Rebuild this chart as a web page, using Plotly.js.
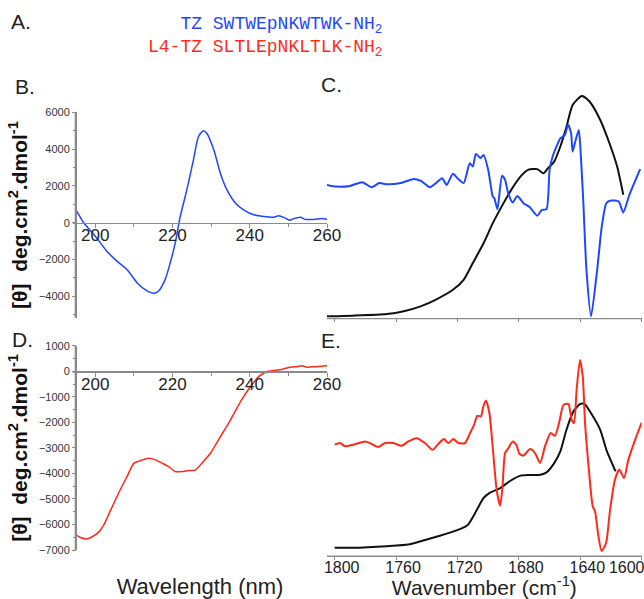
<!DOCTYPE html>
<html><head><meta charset="utf-8">
<script src="https://cdn.plot.ly/plotly-3.0.1.min.js"></script>
<style>html,body{margin:0;padding:0;background:#fff}#chart{width:644px;height:599px}</style>
</head><body><div id="chart"></div>
<script>
// ---- CD spectra (wavelength nm, [theta] deg.cm2.dmol-1) ----
const cdWlTZ = [195,197,200,203,205.6,208.2,210.8,213.4,215.1,216.4,218.1,219.4,220.7,222,223.7,225.4,226.7,227.9,228.9,230.7,232.4,234.1,236.3,238.4,241,243.6,246.2,247.5,248.8,250.3,251.4,253.1,254.4,256.6,258.7,260];
const cdValTZ = [700,0,-740,-1550,-2090,-2540,-3260,-3710,-3840,-3710,-3080,-2180,-1100,340,1780,3400,4670,4990,4850,3950,2680,1780,1060,700,430,340,300,380,290,130,220,300,180,180,230,180];
const cdWlL4 = [195,196,197.7,199,201,202.2,204,206,208.2,210,211.7,213.8,215.5,217.3,219,220.7,222.5,224.2,225.9,227.6,229.8,232.4,235,237.6,240.2,242.3,244.5,246.2,248.4,250.5,252.2,253.5,254.8,257,260];
const cdValL4 = [-6410,-6500,-6570,-6500,-6280,-6020,-5430,-4780,-4130,-3600,-3500,-3410,-3470,-3600,-3735,-3930,-3930,-3890,-3870,-3600,-3210,-2560,-1910,-1190,-600,-210,-10,30,80,160,180,210,160,180,210];

// ---- FTIR, TZ (panel C): absorbance (black) and 2nd derivative (blue), arbitrary units ----
const irWnTZabs = [1805,1788,1766,1755,1744,1734,1723,1716,1710,1703,1697,1690,1685,1679,1674,1668,1664,1661,1657,1653,1649,1645,1639,1634,1627,1621,1616,1612];
const irAbsTZ = [0.7,1,1.7,2.9,5,7.9,12.1,16.4,23.6,32.1,40.7,49.3,55,60.7,63.6,63.9,62.1,64.3,67.1,73.6,82.1,91.4,95.3,92.9,85,75,65,52.9];
const irWnTZd2 = [1805,1799,1790,1782,1776,1771,1766,1757,1749,1744,1738,1734,1730,1727,1723,1720,1716,1712,1710,1708,1705,1703,1700,1697,1696,1694,1691,1689,1687,1684,1681,1677,1673,1668,1665,1662,1660,1658,1653,1650,1648,1646,1645,1643,1641,1640,1638,1636,1633,1629,1626,1623,1620,1615,1612,1608,1601];
const irD2TZ = [57.1,56.4,56.7,58.3,56.1,57.9,57.4,57.9,59.6,58.9,56.1,57.9,60,57.1,61.9,60,57.9,66.4,65,70.4,68.6,70,63.6,52.1,51.4,46.7,61,59.3,53.6,49.6,52.4,49.3,47.6,43.9,46.4,46.7,63.6,69.3,77.1,78.6,82.9,79.3,71.4,76.4,80.7,73.6,49.3,20.7,0.7,20.7,39.3,49.3,50.4,50,45.3,52.9,63.9];

// ---- FTIR, L4-TZ (panel E) ----
const irWnL4abs = [1800,1788,1766,1752,1744,1736,1727,1718,1713,1709,1705,1703,1699,1692,1686,1679,1673,1666,1662,1657,1653,1649,1644.5,1640,1637,1633,1627,1623,1617];
const irAbsL4 = [3.3,3.3,4,4.7,6.1,7.6,9.4,11.4,13.3,17.6,22.6,24.7,26.9,29,31.9,34.3,34.6,34.7,35.7,39.7,44.7,54,61.9,65.1,64.9,61.1,54,45.4,36.1];
const irWnL4d2 = [1800,1796.5,1793.3,1787.8,1780.2,1777,1771.6,1767.2,1761.8,1756.4,1752,1746.6,1741.2,1736.2,1732.5,1728.8,1726,1722.7,1719.4,1715.1,1711.8,1709.2,1707.1,1704.7,1703.2,1701.4,1699.2,1697.1,1694.5,1692.3,1690.8,1689,1686.9,1684,1681.4,1679.7,1677.1,1672.7,1669.5,1666.2,1663,1659.3,1656.5,1653.6,1651,1647.8,1645.6,1644.1,1642.4,1640.2,1638.4,1636.9,1634.8,1631.9,1630.4,1628.2,1626.1,1623.2,1620.6,1617.4,1614.6,1611.5,1608.7,1604.3,1600];
const irD2L4 = [47.6,48.3,46.9,47.6,49,48.3,46.6,48.3,48.3,47.1,49,50.4,48.3,45.4,47.9,50,48.3,50,48.3,48.3,52.6,56.1,60,59.7,64,66.6,61.1,46.9,28.3,21.4,28.3,44,46.1,49,47.1,43.7,42.9,45.7,44,39.7,46.9,52.6,51.4,57.6,64.7,65.1,58.3,56.9,71.1,84,76.9,56.9,39.7,21.1,19,8.3,1.9,5.4,19.7,32.6,36.9,33.3,41.1,49.7,57.1];

// ---- tick labels ----
const cdTicks = [200,220,240,260];
const irTicks = [1800,1760,1720,1680,1640];
const irTickLast = [1600];

// ---- texts ----
const seqTZ = '&nbsp;&nbsp;&nbsp;TZ SWTWEpNKWTWK-NH<sub>2</sub>';
const seqL4 = 'L4-TZ SLTLEpNKLTLK-NH<sub>2</sub>';
const yTitle = '<b>[θ]\u00a0\u00a0deg.cm<sup>2</sup>.dmol<sup>-1</sup></b>';

const W = 644, H = 599;
const BLUE = '#1f47ff', RED = '#ff2a1a', BLACK = '#111111', AX = '#8a8a8a';
const FONT = 'Liberation Sans, Arial, sans-serif';
const fx = p => p / W;
const fy = p => 1 - p / H;
const ydom = (top, bot) => [fy(bot), fy(top)];
function zeroPos(dom, range) { return dom[0] + (0 - range[0]) / (range[1] - range[0]) * (dom[1] - dom[0]); }

// plot areas are padded by 3 px so that every axis line lies inside its plot area
const xdomL = [fx(73), fx(327)], cdXRange = [195 - 3 / 3.86, 260];
const xdomR = [fx(327), fx(641.7)];
const ydomB = ydom(112, 318), yrB = [-5180, 6017];
const ydomD = ydom(345.7, 550), yrD = [-7000, 1000];
const ydomC = ydom(85, 321), ydomE = ydom(322.7, 558.5);
const irYRange = [-3 / 2.33, 100];
const irRange = [1805, 1600];

const cdX = (ydm, yr) => ({
  domain: xdomL, range: cdXRange, anchor: 'free', position: zeroPos(ydm, yr),
  showline: true, linecolor: AX, linewidth: 1.3, showgrid: false, zeroline: false,
  tickmode: 'array', tickvals: cdTicks, ticks: 'outside', ticklen: 4, tickcolor: AX,
  ticklabelstandoff: -7,
  minor: {tickmode: 'linear', tick0: 190, dtick: 10, ticks: 'outside', ticklen: 3, tickcolor: AX},
  tickfont: {family: FONT, size: 17, color: '#222'}
});
const cdY = (dom, yr, dt) => ({
  domain: dom, range: yr, anchor: 'free', position: fx(76), showline: true, linecolor: AX, linewidth: 1.3,
  showgrid: false, zeroline: false, dtick: dt, tick0: 0, ticks: 'outside', ticklen: 4, tickcolor: AX,
  minor: {dtick: dt / 2, ticks: 'outside', ticklen: 3, tickcolor: AX},
  tickfont: {family: FONT, size: 11, color: '#333'},
  title: {text: yTitle, font: {family: FONT, size: 21, color: '#111'}, standoff: 4}
});
const hiddenY = (dom, anchor) => ({domain: dom, range: irYRange, anchor: anchor, visible: false});
const irX = (linePx, extra) => Object.assign({
  domain: xdomR, range: irRange, anchor: 'free', position: fy(linePx), showline: true, linecolor: AX,
  linewidth: 1.3, showgrid: false, zeroline: false, tickmode: 'array', tickvals: irTicks,
  ticks: 'outside', ticklen: 3, tickcolor: AX, ticklabeloverflow: 'allow',
  tickfont: {family: FONT, size: 16, color: '#222'}, ticklabelstandoff: -6
}, extra);

const xD = cdX(ydomD, yrD);
xD.title = {text: 'Wavelength (nm)', font: {family: FONT, size: 22, color: '#222'}, standoff: 186};

const traces = [
  {x: cdWlTZ, y: cdValTZ, xaxis: 'x', yaxis: 'y', mode: 'lines', line: {color: BLUE, width: 1.5, shape: 'spline', smoothing: 0.6}},
  {x: cdWlL4, y: cdValL4, xaxis: 'x2', yaxis: 'y2', mode: 'lines', line: {color: RED, width: 1.5, shape: 'spline', smoothing: 0.6}},
  {x: irWnTZabs, y: irAbsTZ, xaxis: 'x3', yaxis: 'y3', mode: 'lines', line: {color: BLACK, width: 2, shape: 'spline', smoothing: 0.6}},
  {x: irWnTZd2, y: irD2TZ, xaxis: 'x3', yaxis: 'y3', mode: 'lines', line: {color: BLUE, width: 2, shape: 'spline', smoothing: 0.6}},
  {x: irWnL4abs, y: irAbsL4, xaxis: 'x4', yaxis: 'y4', mode: 'lines', line: {color: BLACK, width: 2, shape: 'spline', smoothing: 0.6}},
  {x: irWnL4d2, y: irD2L4, xaxis: 'x5', yaxis: 'y4', mode: 'lines', line: {color: RED, width: 2, shape: 'spline', smoothing: 0.6}}
];

// axis-line strokes repeated as paper shapes so they are always drawn on top
const axLine = (x0, y0, x1, y1) => ({type: 'line', xref: 'paper', yref: 'paper', layer: 'above',
  x0: fx(x0), y0: fy(y0), x1: fx(x1), y1: fy(y1), line: {color: AX, width: 1.3}});

const layout = {
  width: W, height: H, margin: {l: 0, r: 0, t: 0, b: 0},
  paper_bgcolor: '#fff', plot_bgcolor: 'rgba(0,0,0,0)', showlegend: false,
  font: {family: FONT, color: '#222'},
  xaxis: cdX(ydomB, yrB),
  yaxis: cdY(ydomB, yrB, 2000),
  xaxis2: xD,
  yaxis2: cdY(ydomD, yrD, 1000),
  xaxis3: irX(318, {tickvals: irTicks.concat(irTickLast), showticklabels: false}),
  yaxis3: hiddenY(ydomC, 'x3'),
  xaxis4: irX(555.5, {ticklabelshift: -7,
    title: {text: 'Wavenumber (cm<sup>-1</sup>)', font: {family: FONT, size: 21, color: '#222'}, standoff: 6}}),
  xaxis5: irX(555.5, {overlaying: 'x4', showline: false, tickvals: irTickLast, ticklabelshift: 15}),
  yaxis4: hiddenY(ydomE, 'x4'),
  shapes: [
    axLine(327, 318.65, 641.7, 318.65),
    axLine(327, 556.15, 641.7, 556.15),
    axLine(75.35, 112, 75.35, 318),
    axLine(75.35, 345.7, 75.35, 550)
  ],
  annotations: [
    {text: 'A.', x: fx(9), y: fy(22)},
    {text: 'B.', x: fx(13), y: fy(87)},
    {text: 'C.', x: fx(319), y: fy(85)},
    {text: 'D.', x: fx(10), y: fy(340)},
    {text: 'E.', x: fx(319), y: fy(341)}
  ].map(a => Object.assign({xref: 'paper', yref: 'paper', xanchor: 'left', yanchor: 'middle', showarrow: false,
      font: {family: FONT, size: 21, color: '#222'}}, a)).concat([
    {text: seqTZ, x: fx(384), y: fy(25), xref: 'paper', yref: 'paper', xanchor: 'right', yanchor: 'middle',
      showarrow: false, font: {family: 'Liberation Mono, Courier New, monospace', size: 18, color: BLUE}},
    {text: seqL4, x: fx(384), y: fy(48), xref: 'paper', yref: 'paper', xanchor: 'right', yanchor: 'middle',
      showarrow: false, font: {family: 'Liberation Mono, Courier New, monospace', size: 18, color: RED}}
  ])
};

Plotly.newPlot('chart', traces, layout, {staticPlot: true, displayModeBar: false});
</script></body></html>
